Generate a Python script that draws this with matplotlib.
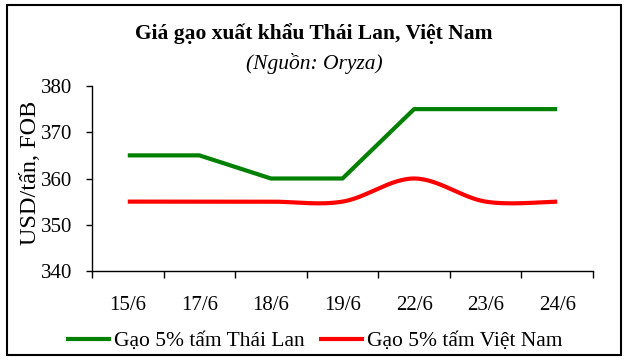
import matplotlib
matplotlib.use("Agg")
import matplotlib.pyplot as plt
import numpy as np
from matplotlib.patches import Rectangle

categories = ["15/6", "17/6", "18/6", "19/6", "22/6", "23/6", "24/6"]
thai = [365, 365, 360, 360, 375, 375, 375]
vietnam = [355, 355, 355, 355, 360, 355, 355]
yticks = [340, 350, 360, 370, 380]

plt.rcParams['font.family'] = ['Liberation Serif', 'DejaVu Serif']

def excel_smooth(xs, ys, n=30):
    xs = np.asarray(xs, float); ys = np.asarray(ys, float)
    px, py = [], []
    m = len(xs)
    for i in range(m - 1):
        x0, y0 = xs[max(i - 1, 0)], ys[max(i - 1, 0)]
        x1, y1 = xs[i], ys[i]
        x2, y2 = xs[i + 1], ys[i + 1]
        x3, y3 = xs[min(i + 2, m - 1)], ys[min(i + 2, m - 1)]
        c1x, c1y = x1 + (x2 - x0) / 6, y1 + (y2 - y0) / 6
        c2x, c2y = x2 - (x3 - x1) / 6, y2 - (y3 - y1) / 6
        t = np.linspace(0, 1, n)
        bx = (1-t)**3*x1 + 3*(1-t)**2*t*c1x + 3*(1-t)*t**2*c2x + t**3*x2
        by = (1-t)**3*y1 + 3*(1-t)**2*t*c1y + 3*(1-t)*t**2*c2y + t**3*y2
        px.extend(bx); py.extend(by)
    return np.array(px), np.array(py)

fig = plt.figure(figsize=(6.28, 3.61), dpi=100)
ax = fig.add_axes([92/628, 1 - 271/361, (593-92)/628, (271-86)/361])

x = np.arange(len(categories))
ax.plot(x, thai, color="#008000", lw=3.0, solid_capstyle="butt", label="Gạo 5% tấm Thái Lan")
sx, sy = excel_smooth(x, vietnam)
ax.plot(sx, sy, color="#FF0000", lw=3.0, solid_capstyle="butt", label="Gạo 5% tấm Việt Nam")

FS = 15.5
TS = 15
ax.set_xlim(-0.5, len(categories) - 0.5)
ax.set_ylim(340, 380)
ax.set_yticks(yticks)
ax.set_yticklabels([str(v) for v in yticks], fontsize=TS)
ax.set_xticks(np.arange(len(categories) + 1) - 0.5)
ax.set_xticklabels([])
ax.set_xticks(x, minor=True)
ax.set_xticklabels(categories, minor=True, fontsize=TS)
ax.tick_params(axis='x', which='minor', length=0, pad=18)
ax.tick_params(axis='x', which='major', length=5, width=1, direction='out')
ax.tick_params(axis='y', length=4.5, width=1, direction='out', pad=10)
for s in ['top', 'right']:
    ax.spines[s].set_visible(False)
for s in ['left', 'bottom']:
    ax.spines[s].set_linewidth(1)
ax.set_ylabel("USD/tấn, FOB", fontsize=17.5)
ax.yaxis.label.set_verticalalignment('center')
ax.yaxis.set_label_coords((31 - 92) / (593 - 92), (271 - 173) / (271 - 86))

fig.text(0.5, 1 - 34/361, "Giá gạo xuất khẩu Thái Lan, Việt Nam", ha='center', va='center',
         fontsize=FS, fontweight='bold')
fig.text(0.5, 1 - 63/361, "(Nguồn: Oryza)", ha='center', va='center', fontsize=FS, style='italic')

leg = fig.legend(loc='center', bbox_to_anchor=(0.5, 1 - 341/361), ncol=2, frameon=False,
                 fontsize=FS, handlelength=2.1, handletextpad=0.15, columnspacing=0.65,
                 borderpad=0, borderaxespad=0)

fig.patches.append(Rectangle((7/628, 1 - 355/361), (621-7)/628, (355-5)/361,
                             transform=fig.transFigure, fill=False, edgecolor='black', lw=1.5))

fig.savefig("out.png", dpi=100)
